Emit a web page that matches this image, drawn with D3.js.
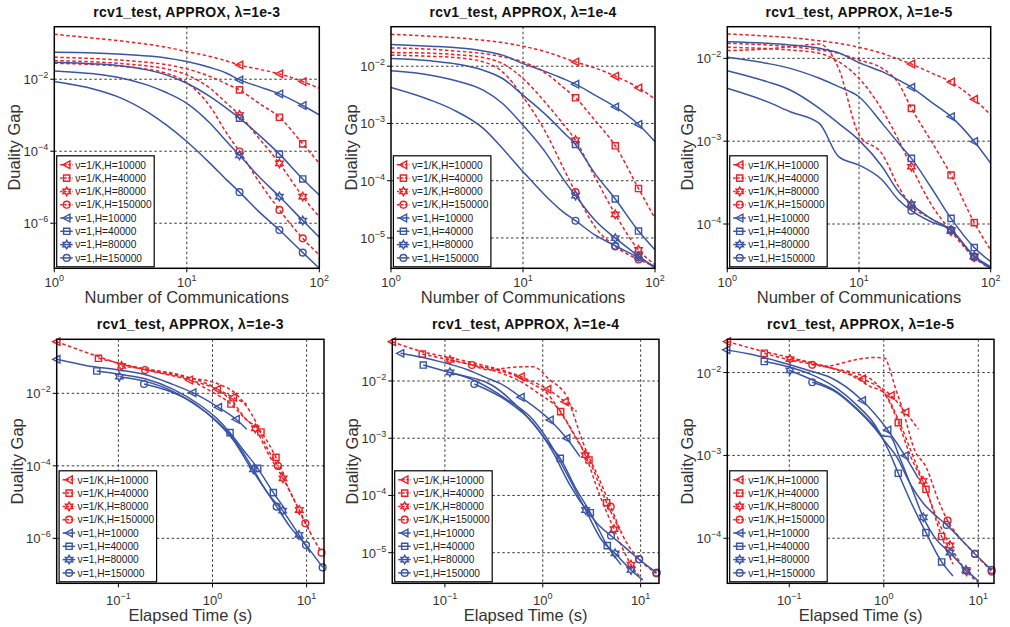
<!DOCTYPE html>
<html lang="en">
<head>
<meta charset="UTF-8">
<title>rcv1_test APPROX duality gap</title>
<style>
  body { margin: 0; background: #fff; }
  svg { display: block; font-family: "Liberation Sans", Arial, sans-serif; }
</style>
</head>
<body>
<script src="https://cdn.jsdelivr.net/npm/d3@7"></script>
<script>
// ---- data ----
var seriesNames = ["ν=1/K,H=10000", "ν=1/K,H=40000", "ν=1/K,H=80000", "ν=1/K,H=150000",
                   "ν=1,H=10000", "ν=1,H=40000", "ν=1,H=80000", "ν=1,H=150000"];
var lambdas = ["1e-3", "1e-4", "1e-5"];

// top row: duality gap after a number of communications
var comms = [1, 2, 3, 5, 7, 10, 15, 20, 25, 35, 50, 75, 100];
var markComms = [25, 50, 75];
var gapComm3 = [
  [0.178, 0.138, 0.119, 0.094, 0.0775, 0.0587, 0.0427, 0.0323, 0.025, 0.019, 0.0141, 0.0086, 0.0056],
  [0.0408, 0.0375, 0.0344, 0.0297, 0.0255, 0.0194, 0.0119, 0.0074, 0.00506, 0.00215, 8.8e-4, 1.6e-4, 4.6e-5],
  [0.033, 0.0303, 0.0278, 0.0234, 0.0194, 0.0132, 0.0056, 0.00215, 1.02e-3, 2.3e-4, 4.6e-5, 5.5e-6, 1.5e-6],
  [0.0278, 0.0255, 0.0234, 0.019, 0.0147, 0.00808, 0.00174, 3.16e-4, 9.8e-5, 1.44e-5, 2.35e-6, 3.8e-7, 1.32e-7],
  [0.0562, 0.0539, 0.0506, 0.0445, 0.0391, 0.031, 0.0211, 0.0147, 0.00958, 0.00625, 0.00392, 0.00186, 0.00102],
  [0.0297, 0.0267, 0.024, 0.0182, 0.0132, 0.00774, 0.0033, 0.00156, 8.3e-4, 2.84e-4, 8.3e-5, 1.7e-5, 6.1e-6],
  [0.017, 0.0141, 0.0114, 0.00696, 0.00427, 0.00215, 6.0e-4, 1.86e-4, 7.7e-5, 1.98e-5, 5.5e-6, 1.19e-6, 4.1e-7],
  [0.0086, 0.00527, 0.0033, 0.00126, 5.4e-4, 1.86e-4, 4.6e-5, 1.6e-5, 7.3e-6, 2.1e-6, 6.5e-7, 1.53e-7, 5.6e-8]
];
var gapComm4 = [
  [0.0361, 0.0334, 0.0316, 0.0284, 0.0259, 0.0223, 0.0178, 0.0142, 0.0119, 0.00935, 0.0067, 0.00419, 0.00266],
  [0.0209, 0.0198, 0.0185, 0.0166, 0.0146, 0.0119, 0.00745, 0.00436, 0.00281, 0.00114, 4.07e-4, 7.3e-5, 2.2e-5],
  [0.0173, 0.0169, 0.016, 0.0142, 0.0111, 0.0061, 0.00223, 0.001, 5.1e-4, 1.17e-4, 2.59e-5, 6.2e-6, 3.4e-6],
  [0.0156, 0.0149, 0.0142, 0.0119, 0.00796, 0.00292, 6.7e-4, 1.75e-4, 6.3e-5, 1.58e-5, 7.1e-6, 4.2e-6, 3.16e-6],
  [0.0239, 0.0223, 0.0212, 0.0185, 0.0156, 0.0111, 0.00796, 0.0061, 0.00485, 0.00312, 0.00195, 9.6e-4, 4.8e-4],
  [0.0136, 0.0124, 0.0111, 0.00852, 0.0061, 0.00312, 0.0014, 7.2e-4, 4.3e-4, 1.34e-4, 4.8e-5, 1.32e-5, 6.2e-6],
  [0.0083, 0.00697, 0.0057, 0.00381, 0.00223, 9.3e-4, 3.0e-4, 1.1e-4, 5.5e-5, 2.06e-5, 9.9e-6, 4.85e-6, 2.96e-6],
  [0.00425, 0.00255, 0.00171, 8.2e-4, 3.66e-4, 1.44e-4, 5.3e-5, 2.88e-5, 2.0e-5, 1.13e-5, 7.3e-6, 4.54e-6, 3.16e-6]
];
var gapComm5 = [
  [0.0197, 0.0186, 0.0178, 0.0163, 0.0152, 0.0136, 0.0115, 0.00972, 0.00855, 0.00672, 0.00518, 0.0032, 0.00207],
  [0.0152, 0.0145, 0.0138, 0.0126, 0.0115, 0.00955, 0.00757, 0.00499, 0.00249, 0.00103, 3.9e-4, 1.04e-4, 4.85e-5],
  [0.0136, 0.0131, 0.0126, 0.0115, 0.00912, 0.00574, 0.00238, 0.00103, 4.92e-4, 1.77e-4, 8.2e-5, 4.0e-5, 2.92e-5],
  [0.0124, 0.013, 0.0138, 0.0149, 0.00757, 0.00119, 7.0e-4, 2.82e-4, 1.66e-4, 1.17e-4, 8.3e-5, 3.93e-5, 2.92e-5],
  [0.0159, 0.0152, 0.0145, 0.0132, 0.0117, 0.00887, 0.0069, 0.00547, 0.00447, 0.003, 0.00198, 9.9e-4, 5.4e-4],
  [0.0103, 0.00871, 0.00757, 0.00574, 0.00455, 0.00344, 0.00164, 9.4e-4, 6.2e-4, 2.82e-4, 1.17e-4, 5.2e-5, 3.5e-5],
  [0.0071, 0.00523, 0.00415, 0.00249, 0.00164, 0.00103, 4.92e-4, 2.45e-4, 1.74e-4, 1.17e-4, 8.5e-5, 4.1e-5, 3.05e-5],
  [0.00435, 0.003, 0.00227, 0.00164, 6.5e-4, 5.15e-4, 3.4e-4, 1.95e-4, 1.45e-4, 1.07e-4, 8.5e-5, 4.04e-5, 2.92e-5]
];

// bottom row: [elapsed seconds, duality gap]
var gapTime3 = [
  [[0.0221,0.266],[0.0614,0.1026],[0.1,0.0673],[0.2,0.044],[0.568,0.0233],[1.125,0.0129],[1.66,0.00776],[2.31,0.00508]],
  [[0.0614,0.0925],[0.17,0.05],[0.532,0.0259],[0.904,0.0124],[1.57,0.00508],[2.21,0.00204],[3.27,8.57e-4],[4.72,1.71e-4],[5.98,4.52e-5]],
  [[0.108,0.0568],[0.2,0.0459],[0.532,0.0288],[1.10,0.0132],[1.65,0.00565],[2.196,0.00213],[2.85,0.00108],[3.85,2.31e-4],[5.61,4.52e-5],[8.36,6.05e-6],[10.9,1.53e-6]],
  [[0.192,0.044],[0.532,0.0272],[1.10,0.0189],[1.90,0.00809],[2.85,0.00173],[3.79,3.17e-4],[4.96,9.9e-5],[6.93,1.57e-5],[9.68,2.6e-6],[14.4,4.03e-7]],
  [[0.0221,0.0867],[0.0461,0.058],[0.1,0.044],[0.2,0.0321],[0.354,0.0189],[0.616,0.0104],[1.153,0.00411],[1.778,0.00192],[2.307,0.00102]],
  [[0.0589,0.0413],[0.104,0.0334],[0.2,0.0243],[0.384,0.0129],[0.736,0.00476],[1.107,0.00204],[1.535,8.22e-4],[2.125,2.74e-4],[3.02,8.5e-5],[4.43,1.82e-5],[5.98,6.05e-6]],
  [[0.1025,0.0288],[0.2,0.021],[0.384,0.0111],[0.625,0.0053],[1.02,0.00204],[1.66,5.74e-4],[2.715,8.0e-5],[3.76,1.94e-5],[5.56,5.8e-6],[8.29,1.24e-6],[10.9,4.03e-7]],
  [[0.187,0.0181],[0.384,0.0104],[0.679,0.00476],[1.107,0.00165],[1.66,5.16e-4],[2.5,9.5e-5],[3.47,2.66e-5],[4.8,7.5e-6],[6.65,2.1e-6],[9.84,6.5e-7],[14.8,1.58e-7]]
];
var gapTime4 = [
  [[0.029,0.0486],[0.0587,0.0325],[0.1125,0.0256],[0.2026,0.0204],[0.598,0.0119],[1.12,0.00715],[1.685,0.00435],[2.217,0.00291]],
  [[0.0587,0.0296],[0.1125,0.0233],[0.2026,0.0185],[0.3795,0.0136],[0.598,0.00974],[0.899,0.00609],[1.522,0.00291],[2.132,0.00107],[2.965,4.17e-4],[4.49,7.48e-5],[6.30,2.24e-5]],
  [[0.1125,0.0233],[0.2026,0.019],[0.553,0.0119],[0.775,0.00898],[1.103,0.00609],[1.659,0.00223],[2.217,9.96e-4],[2.719,5.09e-4],[3.69,1.18e-4],[5.34,2.59e-5],[7.97,6.18e-6],[10.48,3.33e-6]],
  [[0.189,0.019],[0.2884,0.0156],[0.48,0.0173],[0.793,0.0178],[1.184,0.0104],[1.766,0.00525],[2.034,0.00276],[2.594,8.15e-4],[3.81,1.86e-4],[4.94,6.37e-5],[6.92,1.67e-5],[9.69,7.66e-6],[14.46,4.36e-6]],
  [[0.0352,0.0304],[0.0577,0.0259],[0.0889,0.0218],[0.173,0.0156],[0.2884,0.0107],[0.365,0.0091],[0.598,0.0052],[1.184,0.00208],[1.752,9.96e-4],[2.399,4.76e-4]],
  [[0.0601,0.019],[0.1198,0.0136],[0.300,0.00851],[0.598,0.00311],[0.899,0.00139],[1.202,7.22e-4],[1.51,4.45e-4],[2.132,1.42e-4],[3.06,5.0e-5],[4.56,1.33e-5],[6.30,6.18e-6]],
  [[0.1125,0.0142],[0.195,0.0104],[0.427,0.00478],[0.8,0.00208],[1.184,8.15e-4],[1.823,2.13e-4],[2.741,5.57e-5],[3.99,1.67e-5],[5.47,9.75e-6],[7.97,4.99e-6],[10.48,3.33e-6]],
  [[0.1995,0.00886],[0.427,0.00453],[0.8,0.00182],[1.231,6.23e-4],[1.896,1.52e-4],[2.85,5.28e-5],[3.81,2.93e-5],[4.98,1.98e-5],[6.92,1.24e-5],[9.62,7.66e-6],[14.57,4.48e-6]]
];
var gapTime5 = [
  [[0.0221,0.0237],[0.0544,0.0179],[0.1017,0.0152],[0.1765,0.013],[0.3168,0.0108],[0.592,0.0084],[1.191,0.00528],[1.702,0.00332],[2.318,0.00207]],
  [[0.0544,0.0171],[0.1017,0.0142],[0.1765,0.0126],[0.3168,0.011],[0.5417,0.00955],[0.813,0.00757],[1.08,0.00499],[1.424,0.00249],[1.892,0.00102],[2.794,3.9e-4],[4.093,1.05e-4],[5.395,4.85e-5]],
  [[0.1017,0.0145],[0.1765,0.013],[0.4994,0.0087],[0.6966,0.0069],[0.996,0.00574],[1.495,0.00238],[2.002,0.00103],[2.597,4.92e-4],[3.624,1.78e-4],[5.015,8.23e-5],[7.527,3.99e-5],[10.0,2.91e-5]],
  [[0.175,0.0124],[0.2587,0.012],[0.358,0.013],[0.537,0.0145],[0.806,0.0152],[1.029,0.0149],[1.162,0.0108],[1.313,0.00678],[1.545,0.00389],[1.744,0.00244],[2.051,0.00128],[2.84,7.0e-4],[3.804,2.82e-4],[4.738,1.63e-4],[6.664,9.55e-5],[9.22,6.47e-5],[13.84,3.96e-5]],
  [[0.0217,0.0188],[0.0416,0.0164],[0.0705,0.014],[0.1017,0.0124],[0.175,0.0103],[0.2587,0.00895],[0.592,0.00459],[1.098,0.00203],[1.675,9.95e-4],[2.318,5.3e-4]],
  [[0.0544,0.0136],[0.1017,0.0116],[0.175,0.00937],[0.3168,0.00647],[0.516,0.00407],[0.806,0.00233],[1.116,0.00117],[1.424,6.09e-4],[1.892,2.9e-4],[2.794,1.17e-4],[4.093,5.18e-5],[5.395,3.51e-5]],
  [[0.1017,0.0106],[0.175,0.00816],[0.3168,0.0059],[0.516,0.00371],[0.774,0.00233],[0.988,0.00172],[1.162,0.00169],[1.483,9.24e-4],[1.892,4.61e-4],[2.618,1.79e-4],[3.624,9.55e-5],[5.015,6.71e-5],[7.406,4.15e-5],[10.0,3.05e-5]],
  [[0.175,0.00764],[0.3168,0.00574],[0.516,0.00361],[0.774,0.00223],[1.029,0.00147],[1.367,9.68e-4],[1.892,4.61e-4],[2.618,2.65e-4],[3.624,1.83e-4],[4.624,1.45e-4],[6.664,9.55e-5],[9.22,6.47e-5],[13.84,4.15e-5]]
];
// which points of each time curve carry a marker
var markTime3 = [[0,4,5,6],[0,4,6,7],[0,6,8,9],[0,6,8,9],[0,5,6,7],[0,6,8,9],[0,6,8,9],[0,7,9,10]];
var markTime4 = [[0,4,5,6],[0,6,8,9],[0,7,9,10],[0,9,11,12],[0,6,7,8],[0,6,8,9],[0,6,8,9],[0,7,9,10]];
var markTime5 = [[0,5,6,7],[0,7,9,10],[0,7,9,10],[0,13,15,16],[0,6,7,8],[0,7,9,10],[0,9,11,12],[0,9,11,12]];

// axis limits and ticks
var xDomComm = [1, 100];
var yDomComm = [[5.6e-8, 0.288], [2.95e-6, 0.049], [2.92e-5, 0.0241]];
var xDomTime = [[0.0221, 15.3], [0.029, 15.4], [0.0221, 14.66]];
var yDomTime = [[5.75e-8, 0.309], [2.92e-6, 0.0535], [2.86e-5, 0.0252]];
var yTickVals = [[1e-2, 1e-4, 1e-6], [1e-2, 1e-3, 1e-4, 1e-5], [1e-2, 1e-3, 1e-4]];
var xTickComm = [1, 10, 100];
var xTickTime = [0.1, 1, 10];

// ---- style / layout ----
var red = "#ee1f25", blue = "#3a55a5";
var colors = [red, red, red, red, blue, blue, blue, blue];
var dashes = ["3.5,2.5", "3.5,2.5", "3.5,2.5", "3.5,2.5", null, null, null, null];
var shapes = ["tri", "sq", "star", "circ", "tri", "sq", "star", "circ"];
var topBoxes = [{l: 54.3, r: 319.3, t: 26.7, b: 268.3}, {l: 391, r: 655, t: 26.7, b: 268.3}, {l: 727.3, r: 990.7, t: 26.7, b: 268.3}];
var botBoxes = [{l: 56.7, r: 324, t: 339.3, b: 583.3}, {l: 392.3, r: 659, t: 339.3, b: 583.3}, {l: 727.3, r: 994, t: 339.3, b: 583.3}];

var svg = d3.select("body").append("svg").attr("width", 1010).attr("height", 627);
var defs = svg.append("defs");

function markerPath(shape) {
  if (shape == "tri") return "M-4,0L3.2,-3.8L3.2,3.8Z";
  if (shape == "sq") return "M-3.1,-3.1h6.2v6.2h-6.2Z";
  if (shape == "circ") return d3.symbol(d3.symbolCircle, 36)();
  // six pointed star
  var p = d3.path();
  for (var i = 0; i < 12; i++) {
    var a = -Math.PI / 2 + i * Math.PI / 6;
    var r = i % 2 == 0 ? 4.3 : 2.4;
    if (i == 0) p.moveTo(r * Math.cos(a), r * Math.sin(a));
    else p.lineTo(r * Math.cos(a), r * Math.sin(a));
  }
  p.closePath();
  return p.toString();
}

function powLabel(sel, v) {
  var e = Math.round(Math.log10(v));
  sel.append("tspan").text("10");
  sel.append("tspan").attr("dy", -6).attr("font-size", 9).text(e < 0 ? "−" + (-e) : e);
}

function panel(id, box, x, y, xTicks, yTicks, curves, marks, xTitle, title, tickGap, xTitleGap) {
  var g = svg.append("g");
  defs.append("clipPath").attr("id", id).append("rect")
    .attr("x", box.l).attr("y", box.t).attr("width", box.r - box.l).attr("height", box.b - box.t);

  // grid
  g.selectAll(".gx").data(xTicks.filter(function (v) { var p = x(v); return p > box.l + 2 && p < box.r - 2; }))
    .enter().append("line")
    .attr("x1", function (d) { return x(d); }).attr("x2", function (d) { return x(d); })
    .attr("y1", box.t).attr("y2", box.b)
    .attr("stroke", "#222").attr("stroke-width", 0.9).attr("stroke-dasharray", "2.5,2.5");
  g.selectAll(".gy").data(yTicks.filter(function (v) { var p = y(v); return p > box.t + 2 && p < box.b - 2; }))
    .enter().append("line")
    .attr("y1", function (d) { return y(d); }).attr("y2", function (d) { return y(d); })
    .attr("x1", box.l).attr("x2", box.r)
    .attr("stroke", "#222").attr("stroke-width", 0.9).attr("stroke-dasharray", "2.5,2.5");

  var line = d3.line().x(function (d) { return x(d[0]); }).y(function (d) { return y(d[1]); })
    .curve(d3.curveMonotoneX);

  curves.forEach(function (pts, i) {
    g.append("path").attr("d", line(pts)).attr("clip-path", "url(#" + id + ")")
      .attr("fill", "none").attr("stroke", colors[i]).attr("stroke-width", 1.5)
      .attr("stroke-dasharray", dashes[i]);
    g.selectAll(null).data(marks[i]).enter().append("path")
      .attr("d", markerPath(shapes[i]))
      .attr("transform", function (d) { return "translate(" + x(d[0]) + "," + y(d[1]) + ")"; })
      .attr("fill", "none").attr("stroke", colors[i]).attr("stroke-width", 1.4);
  });

  // frame and outward ticks
  g.append("rect").attr("x", box.l).attr("y", box.t).attr("width", box.r - box.l).attr("height", box.b - box.t)
    .attr("fill", "none").attr("stroke", "#000").attr("stroke-width", 1.5);
  xTicks.forEach(function (v) {
    g.append("line").attr("x1", x(v)).attr("x2", x(v)).attr("y1", box.b).attr("y2", box.b + 4)
      .attr("stroke", "#000").attr("stroke-width", 1);
  });
  yTicks.forEach(function (v) {
    g.append("line").attr("x1", box.l - 4).attr("x2", box.l).attr("y1", y(v)).attr("y2", y(v))
      .attr("stroke", "#000").attr("stroke-width", 1);
  });

  // tick labels
  xTicks.forEach(function (v) {
    var t = g.append("text").attr("x", x(v)).attr("y", box.b + tickGap).attr("text-anchor", "middle")
      .attr("font-size", 13).attr("fill", "#333");
    powLabel(t, v);
  });
  yTicks.forEach(function (v) {
    var t = g.append("text").attr("x", box.l - 6).attr("y", y(v) + 5).attr("text-anchor", "end")
      .attr("font-size", 13).attr("fill", "#333");
    powLabel(t, v);
  });

  // titles
  g.append("text").attr("x", (box.l + box.r) / 2).attr("y", box.t - 10).attr("text-anchor", "middle")
    .attr("font-size", 14).attr("font-weight", "bold").attr("letter-spacing", 0.3).attr("fill", "#111").text(title);
  g.append("text").attr("x", (box.l + box.r) / 2).attr("y", box.b + xTitleGap).attr("text-anchor", "middle")
    .attr("font-size", 16.5).attr("fill", "#333").text(xTitle);
  g.append("text").attr("transform", "translate(" + (box.l - 34) + "," + ((box.t + box.b) / 2) + ") rotate(-90)")
    .attr("text-anchor", "middle").attr("font-size", 16.5).attr("fill", "#333").text("Duality Gap");

  // legend
  var lg = g.append("g").attr("transform", "translate(" + (box.l + 2.4) + "," + (box.b - 112.5) + ")");
  lg.append("rect").attr("width", 97.5).attr("height", 111).attr("fill", "#fff")
    .attr("stroke", "#000").attr("stroke-width", 1.2);
  seriesNames.forEach(function (name, i) {
    var yy = 9 + i * 13.3;
    lg.append("line").attr("x1", 3.5).attr("x2", 16).attr("y1", yy).attr("y2", yy)
      .attr("stroke", colors[i]).attr("stroke-width", 1.5).attr("stroke-dasharray", dashes[i] ? "2.5,1.5" : null);
    lg.append("path").attr("d", markerPath(shapes[i])).attr("transform", "translate(10," + yy + ")")
      .attr("fill", "none").attr("stroke", colors[i]).attr("stroke-width", 1.4);
    lg.append("text").attr("x", 18.5).attr("y", yy + 3.8).attr("font-size", 10.2).attr("fill", "#222").text(name);
  });
}

var gapComm = [gapComm3, gapComm4, gapComm5];
var gapTime = [gapTime3, gapTime4, gapTime5];
var markTime = [markTime3, markTime4, markTime5];

lambdas.forEach(function (lam, k) {
  var title = "rcv1_test, APPROX, λ=" + lam;

  var box = topBoxes[k];
  var x = d3.scaleLog().domain(xDomComm).range([box.l, box.r]);
  var y = d3.scaleLog().domain(yDomComm[k]).range([box.b, box.t]);
  var curves = gapComm[k].map(function (row) { return comms.map(function (c, j) { return [c, row[j]]; }); });
  var marks = curves.map(function (pts) { return pts.filter(function (d) { return markComms.indexOf(d[0]) >= 0; }); });
  panel("cc" + k, box, x, y, xTickComm, yTickVals[k], curves, marks, "Number of Communications", title, 19, 35);

  box = botBoxes[k];
  x = d3.scaleLog().domain(xDomTime[k]).range([box.l, box.r]);
  y = d3.scaleLog().domain(yDomTime[k]).range([box.b, box.t]);
  curves = gapTime[k];
  marks = curves.map(function (pts, i) { return markTime[k][i].map(function (j) { return pts[j]; }); });
  panel("ct" + k, box, x, y, xTickTime, yTickVals[k], curves, marks, "Elapsed Time (s)", title, 22, 38);
});
</script>
</body>
</html>
